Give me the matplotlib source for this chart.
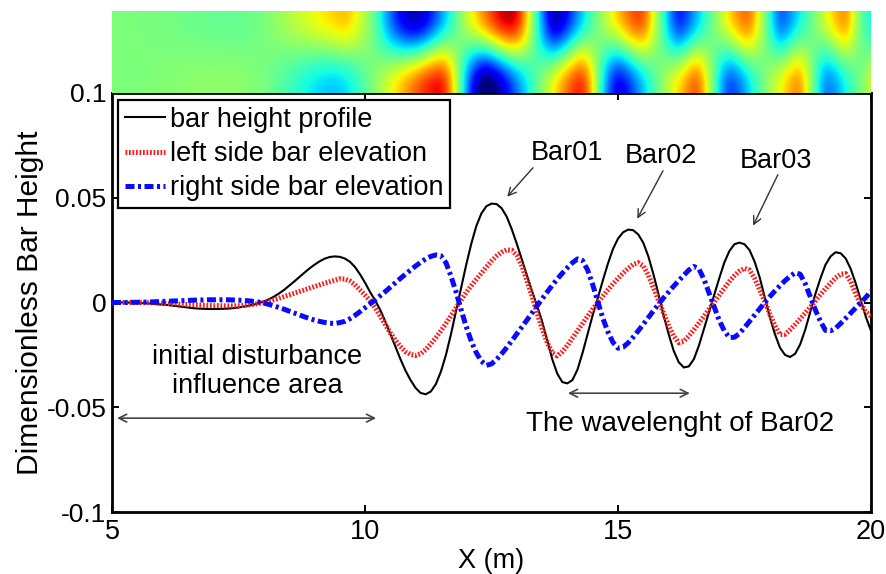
import numpy as np
import matplotlib
matplotlib.use("Agg")
import matplotlib.pyplot as plt
from matplotlib import font_manager

# ---------------------------------------------------------------------------
# Profiles sampled every 0.1 m from X = 5 m to X = 20 m (values in 1e-3)
# ---------------------------------------------------------------------------
x_start, x_step = 5.0, 0.1

bar_height = [
    0, 0, 0, 0, -0.1, -0.2, -0.3, -0.4, -0.6, -0.8,                  # 5
    -1.0, -1.2, -1.5, -1.8, -2.1, -2.4, -2.7, -2.9, -3.0, -3.1,       # 6
    -3.1, -3.1, -3.0, -2.9, -2.7, -2.4, -2.0, -1.5, -1.0, -0.3,       # 7
    0.5, 1.5, 2.8, 4.3, 6.0, 8.0, 10.0, 12.1, 14.2, 16.2,             # 8
    18.0, 19.6, 20.9, 21.7, 22.0, 21.8, 21.0, 19.5, 17.0, 13.5,       # 9
    9.5, 5.0, 1.0, -3.5, -9.0, -15.0, -21.0, -27.0, -32.5, -37.0,     # 10
    -40.8, -43.2, -43.8, -42.5, -39.0, -33.0, -25.0, -15.0, -4.0, 7.0,  # 11
    18.0, 28.0, 36.5, 42.5, 46.0, 47.2, 47.0, 45.0, 41.0, 35.0,       # 12
    28.0, 20.5, 13.0, 5.5, -1.5, -9.0, -18.0, -27.0, -34.0, -38.0,    # 13
    -38.6, -37.0, -32.0, -24.0, -15.0, -6.0, 2.0, 10.5, 18.5, 25.5,   # 14
    30.5, 33.5, 34.8, 34.5, 32.5, 28.5, 22.0, 13.5, 4.0, -6.0,        # 15
    -15.0, -23.0, -28.5, -31.0, -30.5, -27.0, -20.5, -12.5, -4.5, 3.5,  # 16
    11.5, 19.0, 24.5, 27.8, 28.6, 27.8, 25.0, 19.5, 12.0, 2.5,        # 17
    -7.0, -15.0, -21.5, -25.0, -26.0, -24.5, -20.0, -13.0, -4.5, 4.0,  # 18
    11.5, 18.0, 22.0, 24.0, 23.5, 21.0, 16.0, 9.0, 1.0, -7.0,         # 19
    -13.5,                                                            # 20
]

left_side = [
    0, 0, 0, 0, 0, 0, -0.1, -0.1, -0.2, -0.3,                         # 5
    -0.4, -0.5, -0.6, -0.7, -0.9, -1.0, -1.1, -1.2, -1.3, -1.4,       # 6
    -1.5, -1.5, -1.6, -1.6, -1.6, -1.5, -1.4, -1.2, -0.9, -0.5,       # 7
    0.0, 0.6, 1.3, 2.0, 2.8, 3.6, 4.4, 5.2, 6.0, 6.8,                 # 8
    7.6, 8.4, 9.2, 9.9, 10.6, 11.3, 11.2, 10.3, 8.5, 6.0,             # 9
    3.5, 0.8, -2.5, -6.5, -10.5, -14.5, -18.0, -21.0, -23.5, -24.8,   # 10
    -25.3, -24.5, -22.5, -19.8, -16.8, -13.5, -10.0, -6.3, -2.5, 1.2,  # 11
    4.8, 8.0, 11.0, 14.0, 17.0, 19.8, 22.2, 24.0, 25.1, 25.0,         # 12
    22.5, 17.5, 10.5, 3.0, -5.0, -12.5, -19.0, -24.0, -25.5, -23.5,   # 13
    -20.5, -17.0, -13.5, -10.0, -6.5, -3.2, 0.0, 3.0, 6.0, 8.8,       # 14
    11.5, 14.0, 16.3, 18.2, 19.0, 17.5, 13.0, 7.0, 1.0, -5.0,         # 15
    -11.0, -16.0, -19.2, -18.5, -16.0, -13.0, -9.8, -6.5, -3.2, 0.2,  # 16
    3.5, 6.8, 10.0, 12.8, 15.0, 16.3, 15.5, 11.5, 6.0, 0.5,           # 17
    -5.5, -11.0, -15.3, -15.2, -13.0, -10.5, -7.8, -5.0, -2.2, 0.8,   # 18
    3.7, 6.5, 9.2, 11.8, 13.5, 13.8, 10.0, 4.0, -1.0, -4.5,           # 19
    -6.5,                                                             # 20
]

right_side = [
    0, 0, 0, 0, 0.1, 0.1, 0.2, 0.2, 0.3, 0.4,                         # 5
    0.5, 0.6, 0.7, 0.8, 0.9, 1.0, 1.1, 1.2, 1.2, 1.3,                 # 6
    1.3, 1.3, 1.3, 1.3, 1.2, 1.1, 1.0, 0.8, 0.5, 0.2,                 # 7
    -0.3, -0.9, -1.6, -2.4, -3.2, -4.1, -5.0, -5.9, -6.8, -7.6,       # 8
    -8.4, -9.0, -9.5, -9.9, -10.0, -9.6, -9.0, -7.8, -6.2, -4.4,      # 9
    -2.5, -0.7, 1.2, 3.2, 5.2, 7.3, 9.4, 11.5, 13.5, 15.5,            # 10
    17.4, 19.2, 20.8, 22.0, 22.7, 22.3, 19.0, 12.5, 5.0, -3.5,        # 11
    -11.5, -18.5, -24.0, -28.0, -30.0, -29.3, -27.2, -24.5, -21.5, -18.3,  # 12
    -15.0, -11.7, -8.4, -5.0, -1.6, 1.7, 5.0, 8.2, 11.2, 14.0,        # 13
    16.6, 19.0, 20.8, 20.0, 15.5, 8.5, 0.5, -7.5, -14.0, -19.0,       # 14
    -21.8, -21.3, -19.3, -16.5, -13.5, -10.4, -7.2, -4.0, -0.8, 2.2,  # 15
    5.0, 7.8, 10.4, 13.0, 15.5, 17.2, 16.0, 11.0, 4.5, -2.0,          # 16
    -8.5, -13.5, -16.7, -16.6, -14.8, -12.0, -9.0, -6.0, -3.0, 0.0,   # 17
    2.8, 5.5, 8.0, 10.4, 12.5, 14.2, 13.5, 9.0, 2.8, -3.5,            # 18
    -9.0, -13.3, -13.5, -12.3, -10.0, -7.5, -5.0, -2.5, 0.0, 2.5,     # 19
    5.5,                                                              # 20
]

x_ticks = [5, 10, 15, 20]
y_ticks = [0.1, 0.05, 0, -0.05, -0.1]
y_tick_labels = ["0.1", "0.05", "0", "-0.05", "-0.1"]

legend_labels = ["bar height profile", "left side bar elevation",
                 "right side bar elevation"]

# ---------------------------------------------------------------------------
scale = 1e-3
n = len(bar_height)
xs = x_start + x_step * np.arange(n)
h_bar = np.asarray(bar_height) * scale
h_left = np.asarray(left_side) * scale
h_right = np.asarray(right_side) * scale

names = {f.name for f in font_manager.fontManager.ttflist}
base_font = "Liberation Sans" if "Liberation Sans" in names else "DejaVu Sans"

plt.rcParams["font.family"] = [base_font, "DejaVu Sans"]
plt.rcParams["axes.unicode_minus"] = False

W, H = 886, 574
fig = plt.figure(figsize=(W / 100, H / 100), dpi=100)

ax_l, ax_r = 112, 871
ax_t, ax_b = 93, 512
strip_t = 11

ax = fig.add_axes([ax_l / W, 1 - ax_b / H, (ax_r - ax_l) / W, (ax_b - ax_t) / H])
hax = fig.add_axes([ax_l / W, 1 - ax_t / H, (ax_r - ax_l) / W, (ax_t - strip_t) / H])

# --- plan-view strip: left bank on top, right bank at the bottom -----------
field = np.vstack([h_left, h_right])
half = x_step / 2
hax.imshow(field, cmap="jet", vmin=-0.026, vmax=0.026, aspect="auto",
           interpolation="bicubic", interpolation_stage="data",
           extent=(xs[0] - half, xs[-1] + half, 0, 2), origin="upper")
hax.set_xlim(5, 20)
hax.set_ylim(0, 2)
hax.axis("off")

# --- longitudinal profiles -------------------------------------------------
ax.plot(xs, h_bar, color="black", lw=1.5, label=legend_labels[0], zorder=3)
ax.plot(xs, h_left, color="#ff1a1a", lw=3.6, ls=(0, (0.35, 0.35)),
        label=legend_labels[1], zorder=4)
ax.plot(xs, h_right, color="#0a0aff", lw=3.6, ls=(0, (1.8, 0.7, 0.6, 0.7)),
        label=legend_labels[2], zorder=5)

ax.set_xlim(5, 20)
ax.set_ylim(-0.1, 0.1)
ax.set_xticks(x_ticks)
ax.set_xticklabels([str(t) for t in x_ticks], fontsize=19.5)
ax.set_yticks(y_ticks)
ax.set_yticklabels(y_tick_labels, fontsize=19)
ax.tick_params(axis="both", direction="in", length=5, width=1.4,
               top=True, right=True)
ax.tick_params(axis="x", pad=5)
ax.tick_params(axis="y", pad=4)
for sp in ax.spines.values():
    sp.set_linewidth(2.0)

ax.set_xlabel("X (m)", fontsize=19.5, labelpad=2)
ax.set_ylabel("Dimensionless Bar Height", fontsize=21.5, labelpad=2)

leg = ax.legend(loc="upper left", bbox_to_anchor=(0.008, 0.983),
                borderaxespad=0, fontsize=19.5, handlelength=1.5,
                handletextpad=0.15, labelspacing=0.3, borderpad=0.25,
                fancybox=False, framealpha=1, edgecolor="black")
leg.get_frame().set_linewidth(1.6)

# --- annotations -----------------------------------------------------------
arrow_kw = dict(arrowstyle="->", color="#333333", lw=1.0,
                shrinkA=0, shrinkB=0, mutation_scale=14)
ax.text(14.0, 0.0714, "Bar01", fontsize=19.5, ha="center", va="center")
ax.annotate("", xy=(12.81, 0.0505), xytext=(13.32, 0.0643), arrowprops=arrow_kw)
ax.text(15.85, 0.070, "Bar02", fontsize=19.5, ha="center", va="center")
ax.annotate("", xy=(15.38, 0.040), xytext=(15.89, 0.0629), arrowprops=arrow_kw)
ax.text(18.12, 0.0676, "Bar03", fontsize=19.5, ha="center", va="center")
ax.annotate("", xy=(17.67, 0.0367), xytext=(18.16, 0.061), arrowprops=arrow_kw)

ax.text(7.87, -0.0329, "initial disturbance\ninfluence area", fontsize=19.5,
        ha="center", va="center", linespacing=1.15)
dbl_kw = dict(arrowstyle="<->", color="#444444", lw=1.2,
              shrinkA=0, shrinkB=0, mutation_scale=14)
ax.annotate("", xy=(10.22, -0.0552), xytext=(5.1, -0.0552), arrowprops=dbl_kw)
ax.annotate("", xy=(16.42, -0.0433), xytext=(14.01, -0.0433), arrowprops=dbl_kw)
ax.text(16.23, -0.0578, "The wavelenght of Bar02", fontsize=20,
        ha="center", va="center")

fig.savefig("out.png", dpi=100)
